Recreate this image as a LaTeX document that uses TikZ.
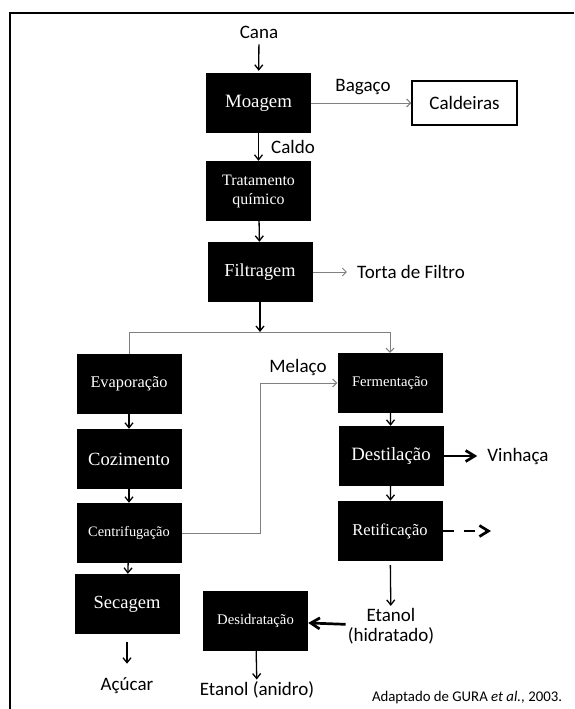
\documentclass[tikz,border=0pt]{standalone}
\usepackage{fontspec}
\setmainfont{Liberation Serif}
\newfontfamily\calibrifont{Carlito}
\usetikzlibrary{arrows.meta}

\begin{document}
\begin{tikzpicture}[x=1pt,y=-1pt,
		etapa/.style={fill=black,text=white,minimum width=105pt,minimum height=60pt,inner sep=0pt,align=center},
		rotulo/.style={font=\calibrifont\fontsize{19}{20}\selectfont,inner sep=2pt,align=center},
		seta/.style={line width=1.3pt,-{Straight Barb[length=5pt,width=8pt]}},
		cinza/.style={gray,line width=1pt,-{Straight Barb[length=4pt,width=8pt]}},
		grossa/.style={line width=2.7pt,-{Straight Barb[length=9pt,width=11pt]}}]
			\useasboundingbox (0,0) rectangle (574,709);
			\fill[white] (0,0) rectangle (574,709);
			\draw[line width=2pt] (10,709) -- (10,13) -- (574,13);

			\node[rotulo] (cana) at (259,32) {Cana};
			\node[etapa,font=\fontsize{18.8}{20}\selectfont] (moagem) at (258.5,103) {Moagem};
			\node[rotulo,draw,line width=1.5pt,minimum width=105pt,minimum height=44pt] (caldeiras) at (464.5,103) {Caldeiras};
			\node[rotulo] (bagaco) at (363,87) {Bagaço};
			\node[rotulo] (caldo) at (293,147) {Caldo};
			\node[etapa,font=\fontsize{15.9}{19}\selectfont] (tratamento) at (258.5,191) {Tratamento\\químico};
			\node[etapa,font=\fontsize{18.3}{20}\selectfont] (filtragem) at (260,272) {Filtragem};
			\node[rotulo] (torta) at (411,272) {Torta de Filtro};
			\coordinate (divisao) at (260,332);
			\coordinate (divesq) at (129,332);
			\coordinate (divdir) at (390,332);

			\node[etapa,font=\fontsize{16.3}{20}\selectfont] (evaporacao) at (129,384) {Evaporação};
			\node[etapa,font=\fontsize{18.6}{20}\selectfont] (cozimento) at (129,459) {Cozimento};
			\node[etapa,font=\fontsize{14.4}{20}\selectfont] (centrifugacao) at (129,533) {Centrifugação};
			\node[etapa,font=\fontsize{18.5}{20}\selectfont] (secagem) at (127,604) {Secagem};
			\node[rotulo] (acucar) at (127,686) {Açúcar};

			\node[rotulo] (melaco) at (298,367) {Melaço};
			\coordinate (dobra) at (260,533);
			\node[etapa,font=\fontsize{14.7}{20}\selectfont] (fermentacao) at (390,383) {Fermentação};
			\node[etapa,font=\fontsize{18.8}{20}\selectfont] (destilacao) at (391,456) {Destilação};
			\node[rotulo] (vinhaca) at (518,456) {Vinhaça};
			\node[etapa,font=\fontsize{16.5}{20}\selectfont] (retificacao) at (390,531) {Retificação};
			\coordinate (saida) at (491,531);
			\node[rotulo] (hidratado) at (391,626) {Etanol\\(hidratado)};
			\node[etapa,font=\fontsize{14.7}{20}\selectfont] (desidratacao) at (255.5,621) {Desidratação};
			\node[rotulo] (anidro) at (257,690) {Etanol (anidro)};
			\node[font=\calibrifont\fontsize{14.8}{16}\selectfont] (fonte) at (467,698) {Adaptado de GURA \textit{et al.}, 2003.};

			\draw[seta,shorten <=4pt,shorten >=2pt] (cana) -- (moagem);
			\draw[cinza] (moagem) -- (caldeiras);
			\draw[seta] (moagem) -- (tratamento);
			\draw[seta] (tratamento) -- (filtragem);
			\draw[cinza,shorten >=8pt] (filtragem) -- (torta);
			\draw[seta] (filtragem) -- (divisao);
			\draw[gray,line width=1pt] (evaporacao) -- (divesq) -- (divdir);
			\draw[cinza] (divdir) -- (fermentacao);

			\draw[seta] (evaporacao) -- (cozimento);
			\draw[seta] (cozimento) -- (centrifugacao);
			\draw[seta] (centrifugacao) -- (secagem);
			\draw[seta,shorten <=8pt,shorten >=12pt] (secagem) -- (acucar);
			\draw[cinza] (centrifugacao) -- (dobra) |- (fermentacao);

			\draw[seta] (fermentacao) -- (destilacao);
			\draw[seta] (destilacao) -- (retificacao);
			\draw[grossa,shorten >=8pt] (destilacao) -- (vinhaca);
			\draw[grossa,dash pattern=on 11pt off 10pt] (retificacao) -- (saida);
			\draw[seta,shorten <=4pt] (retificacao) -- (hidratado);
			\draw[grossa] (hidratado) -- (desidratacao);
			\draw[seta] (desidratacao) -- (anidro);
		\end{tikzpicture}
\end{document}
